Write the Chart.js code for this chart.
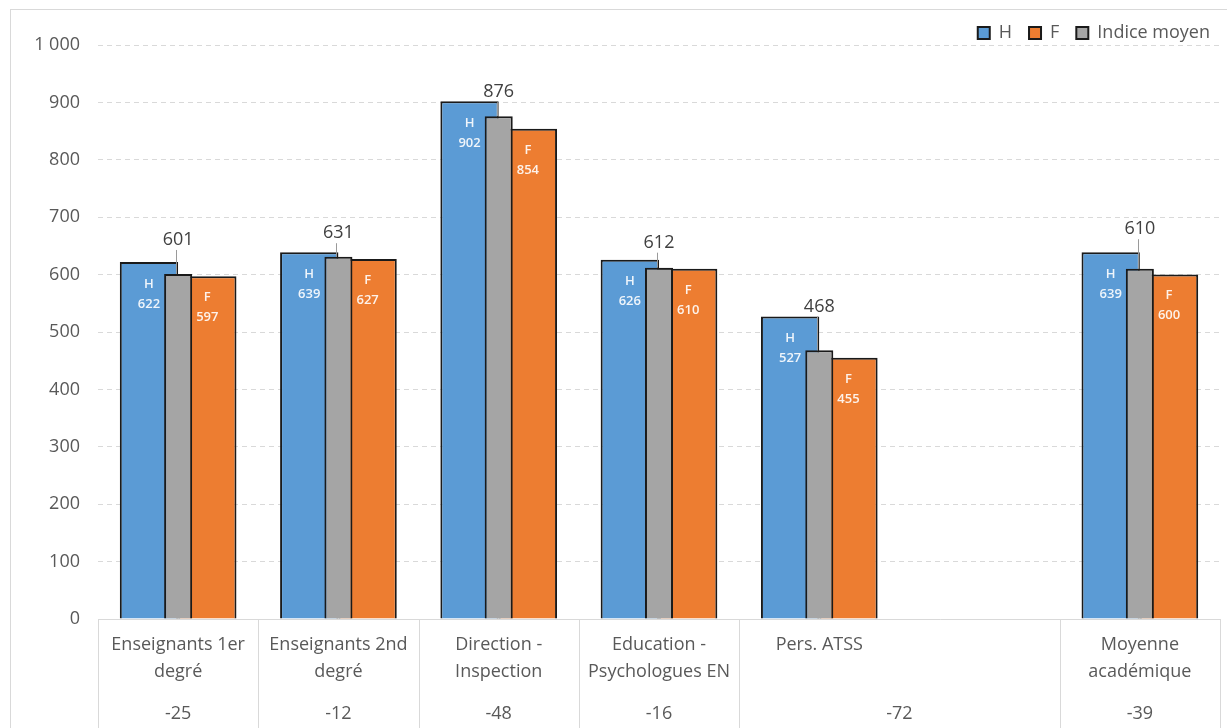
<!DOCTYPE html>
<html>
<head>
<meta charset="utf-8">
<script src="https://cdn.jsdelivr.net/npm/chart.js@4.4.0/dist/chart.umd.min.js"></script>
<style>
  html, body { margin: 0; padding: 0; background: #fff; }
  #wrap { position: relative; width: 1227px; height: 728px; }
</style>
</head>
<body>
<div id="wrap"><canvas id="chart" width="1227" height="728"></canvas></div>
<script>
// categories (inner level) and the gap row under them (outer level)
const categories = [['Enseignants 1er', 'degré'], ['Enseignants 2nd', 'degré'], ['Direction -', 'Inspection'],
    ['Education -', 'Psychologues EN'], ['Pers. ATSS'], [''], ['Moyenne', 'académique']];
const hommes = [622, 639, 902, 626, 527, null, 639];
const femmes = [597, 627, 854, 610, 455, null, 600];
const indiceMoyen = [601, 631, 876, 612, 468, null, 610];
const ecarts = ['-25', '-12', '-48', '-16', '-72', '-39'];
const ecartSpans = [1, 1, 1, 1, 2, 1];
const yTicks = [0, 100, 200, 300, 400, 500, 600, 700, 800, 900, 1000];

// how far (px) the "indice" label sits above the tallest bar of its group
const labelLift = [22, 19, 9, 17, 10, null, 23];

const FONT = "'Open Sans', 'DejaVu Sans', sans-serif";
const TEXT = '#595959';
const LINE = '#d9d9d9';

function fmt(v) {
    return v >= 1000 ? Math.floor(v / 1000) + ' ' + String(v % 1000).padStart(3, '0') : String(v);
}

const tablePlugin = {
    id: 'tablePlugin',
    beforeDraw(chart) {
        const ctx = chart.ctx;
        ctx.save();
        ctx.strokeStyle = LINE;
        ctx.lineWidth = 1;
        ctx.strokeRect(10.5, 9.5, 1400, 900);
        ctx.restore();
    },
    afterDatasetsDraw(chart) {
        const ctx = chart.ctx;
        const hMeta = chart.getDatasetMeta(0);
        const fMeta = chart.getDatasetMeta(1);
        const gMeta = chart.getDatasetMeta(2);
        ctx.save();
        ctx.textAlign = 'center';
        ctx.textBaseline = 'middle';
        categories.forEach((c, i) => {
            if (hommes[i] == null) return;
            const h = hMeta.data[i], f = fMeta.data[i], g = gMeta.data[i];
            ctx.fillStyle = 'rgba(255,255,255,0.9)';
            ctx.font = '600 13px ' + FONT;
            ctx.fillText('H', h.x, h.y + 22);
            ctx.fillText(String(hommes[i]), h.x, h.y + 42);
            ctx.fillText('F', f.x, f.y + 21);
            ctx.fillText(String(femmes[i]), f.x, f.y + 41);

            const top = Math.min(h.y, g.y);
            const ly = top - labelLift[i];
            ctx.fillStyle = '#404040';
            ctx.font = '18px ' + FONT;
            ctx.fillText(String(indiceMoyen[i]), g.x, ly);
            if (g.y - (ly + 10) > 2) {
                ctx.strokeStyle = '#9a9a9a';
                ctx.lineWidth = 1;
                ctx.beginPath();
                ctx.moveTo(Math.round(g.x) - 1.5, ly + 10);
                ctx.lineTo(Math.round(g.x) - 1.5, g.y);
                ctx.stroke();
            }
        });
        ctx.restore();
    },
    afterDraw(chart) {
        const ctx = chart.ctx;
        const x = chart.scales.x;
        const area = chart.chartArea;
        const bottom = chart.height;
        const half = (x.getPixelForValue(1) - x.getPixelForValue(0)) / 2;
        ctx.save();
        ctx.strokeStyle = LINE;
        ctx.lineWidth = 1;
        // group borders
        let idx = 0;
        const edges = [area.left];
        const centers = [];
        ecartSpans.forEach(span => {
            const start = x.getPixelForValue(idx) - half;
            const end = x.getPixelForValue(idx + span - 1) + half;
            centers.push((start + end) / 2);
            edges.push(end);
            idx += span;
        });
        edges.forEach(e => {
            const px = Math.round(e) + 0.5;
            ctx.beginPath();
            ctx.moveTo(px, area.bottom);
            ctx.lineTo(px, bottom);
            ctx.stroke();
        });
        ctx.fillStyle = TEXT;
        ctx.font = '18px ' + FONT;
        ctx.textAlign = 'center';
        ctx.textBaseline = 'middle';
        categories.forEach((lines, i) => {
            const cx = x.getPixelForValue(i);
            lines.forEach((t, j) => ctx.fillText(t, cx, area.bottom + 26 + j * 27));
        });
        ecarts.forEach((t, k) => ctx.fillText(t, centers[k], area.bottom + 95));
        ctx.restore();
    }
};

new Chart(document.getElementById('chart'), {
    type: 'bar',
    data: {
        labels: categories.map(c => c.join(' ')),
        datasets: [
            { label: 'H', data: hommes, backgroundColor: '#5B9BD5', borderColor: '#1a1a1a', borderWidth: 2,
              categoryPercentage: 0.728, barPercentage: 1, order: 1 },
            { label: 'F', data: femmes, backgroundColor: '#ED7D31', borderColor: '#1a1a1a', borderWidth: 2,
              categoryPercentage: 0.728, barPercentage: 1, order: 1 },
            { label: 'Indice moyen', data: indiceMoyen, backgroundColor: '#A5A5A5', borderColor: '#1a1a1a', borderWidth: 2,
              grouped: false, categoryPercentage: 1, barPercentage: 0.175, order: 0 }
        ]
    },
    options: {
        responsive: false,
        animation: false,
        layout: { padding: { top: 7, left: 10, right: 0, bottom: 0 } },
        plugins: {
            tooltip: { enabled: false },
            legend: {
                position: 'top',
                align: 'end',
                maxHeight: 38,
                labels: {
                    font: { family: FONT, size: 18 },
                    color: TEXT,
                    boxWidth: 12,
                    boxHeight: 12,
                    padding: 17,
                    sort: (a, b) => a.datasetIndex - b.datasetIndex
                }
            }
        },
        scales: {
            x: {
                grid: { display: false },
                border: { display: true, color: LINE, width: 1 },
                ticks: { display: false },
                afterFit: s => { s.height = 109; }
            },
            y: {
                min: 0,
                max: 1000,
                grid: { color: LINE, drawTicks: false, tickLength: 0 },
                border: { display: false, dash: [5, 4] },
                ticks: {
                    padding: 18,
                    color: TEXT,
                    font: { family: FONT, size: 18 },
                    callback: v => fmt(v)
                },
                afterBuildTicks: s => { s.ticks = yTicks.map(v => ({ value: v })); },
                afterFit: s => { s.width = 88; }
            },
            pad: {
                type: 'linear',
                position: 'right',
                display: true,
                grid: { display: false },
                border: { display: false },
                ticks: { display: false },
                afterFit: s => { s.width = 7; }
            }
        }
    },
    plugins: [tablePlugin]
});
</script>
</body>
</html>
